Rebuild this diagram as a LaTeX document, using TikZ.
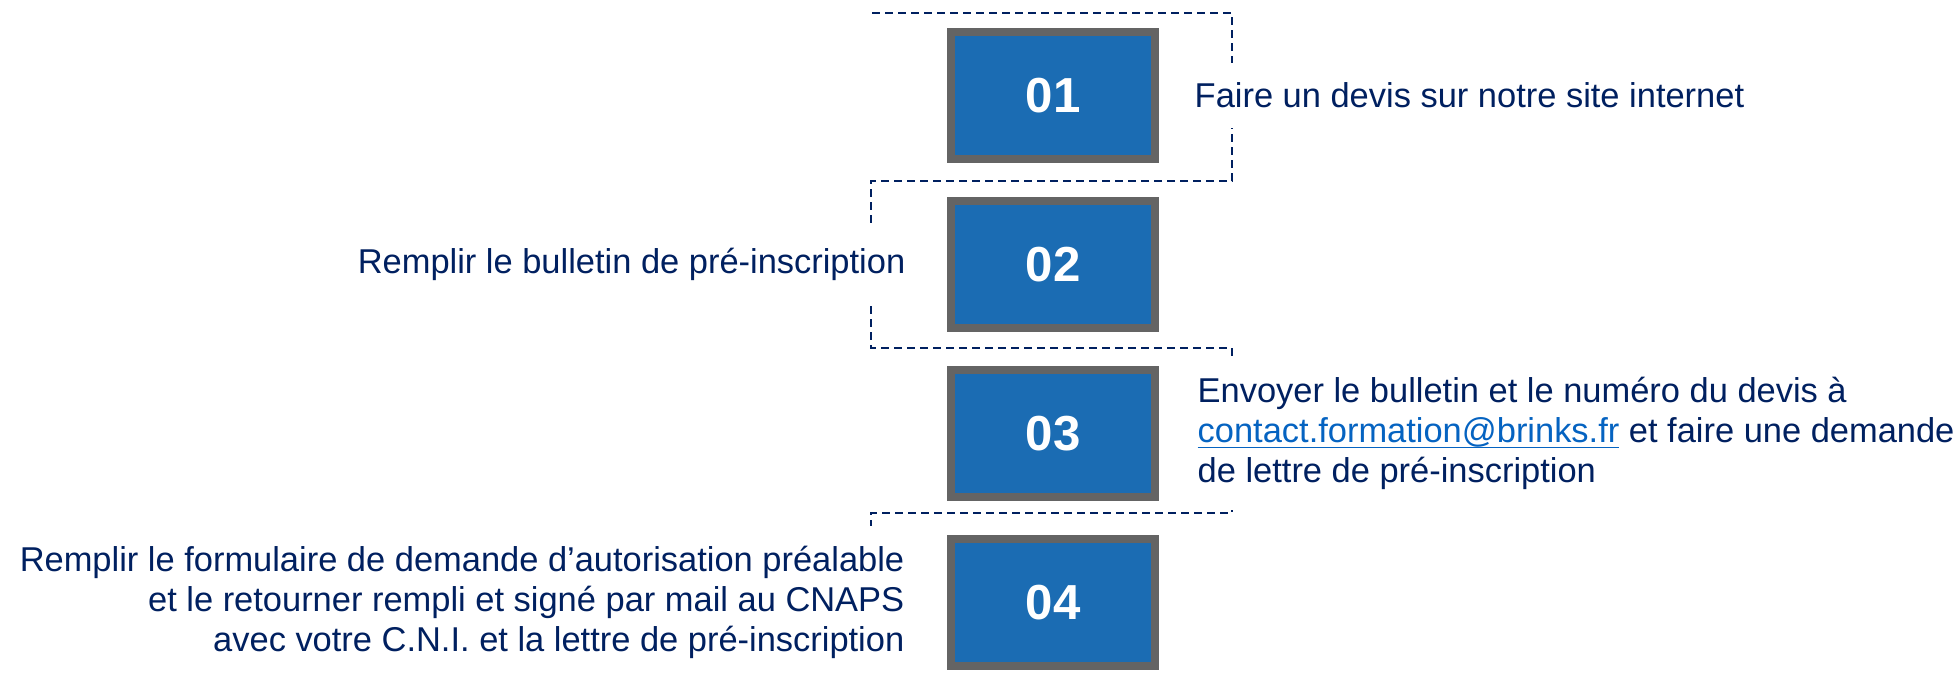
\documentclass[tikz,border=0pt]{standalone}
\usepackage{fontspec}
\setmainfont{Liberation Sans}
\usetikzlibrary{positioning}

\definecolor{navy}{HTML}{002060}
\definecolor{stepblue}{HTML}{1B6CB3}
\definecolor{framegray}{HTML}{646464}
\definecolor{linkblue}{HTML}{0563C1}

\begin{document}
\begin{tikzpicture}
		% Define styles
		\tikzstyle{numbox} = [rectangle, draw=framegray, line width=0.08cm, fill=stepblue,
		minimum width=2.04cm, minimum height=1.27cm, text=white,
		font=\fontsize{14pt}{16pt}\selectfont\bfseries]
		\tikzstyle{steptext} = [fill=white, text=navy, inner xsep=0.06cm, inner ysep=0.2cm,
		font=\fontsize{9.8pt}{11.4pt}\selectfont]
		\tikzstyle{dashline} = [navy, line width=0.024cm, dash pattern=on 0.08cm off 0.05cm]
		
		% Page size
		\useasboundingbox (0,0) rectangle (19.6,6.78);
		
		% Dashed zigzag behind the steps
		\coordinate (p0) at (8.72,6.65);
		\coordinate (p1) at (12.32,6.65);
		\coordinate (p2) at (12.32,4.97);
		\coordinate (p3) at (8.71,4.97);
		\coordinate (p4) at (8.71,3.30);
		\coordinate (p5) at (12.32,3.30);
		\coordinate (p6) at (12.32,1.65);
		\coordinate (p7) at (8.71,1.65);
		\coordinate (p8) at (8.71,-0.1);
		\draw [dashline] (p0) -- (p1) -- (p2) -- (p3) -- (p4) -- (p5) -- (p6) -- (p7) -- (p8);
		
		% Place step boxes
		\node [numbox] (b01) at (10.53,5.825) {01};
		\node [numbox, below=0.34cm of b01] (b02) {02};
		\node [numbox, below=0.34cm of b02] (b03) {03};
		\node [numbox, below=0.34cm of b03] (b04) {04};
		
		% Place texts
		\node [steptext, right=0.29cm of b01] (t01) {Faire un devis sur notre site internet};
		\node [steptext, left=0.35cm of b02] (t02) {Remplir le bulletin de pré-inscription};
		\node [steptext, right=0.32cm of b03, align=left] (t03) {Envoyer le bulletin et le numéro du devis à\\
		\textcolor{linkblue}{\underline{\smash{contact.formation@brinks.fr}}} et faire une demande\\
		de lettre de pré-inscription};
		\node [steptext, left=0.36cm of b04, align=right] (t04) {Remplir le formulaire de demande d’autorisation préalable\\
		et le retourner rempli et signé par mail au CNAPS\\
		avec votre C.N.I. et la lettre de pré-inscription};
	\end{tikzpicture}
\end{document}
